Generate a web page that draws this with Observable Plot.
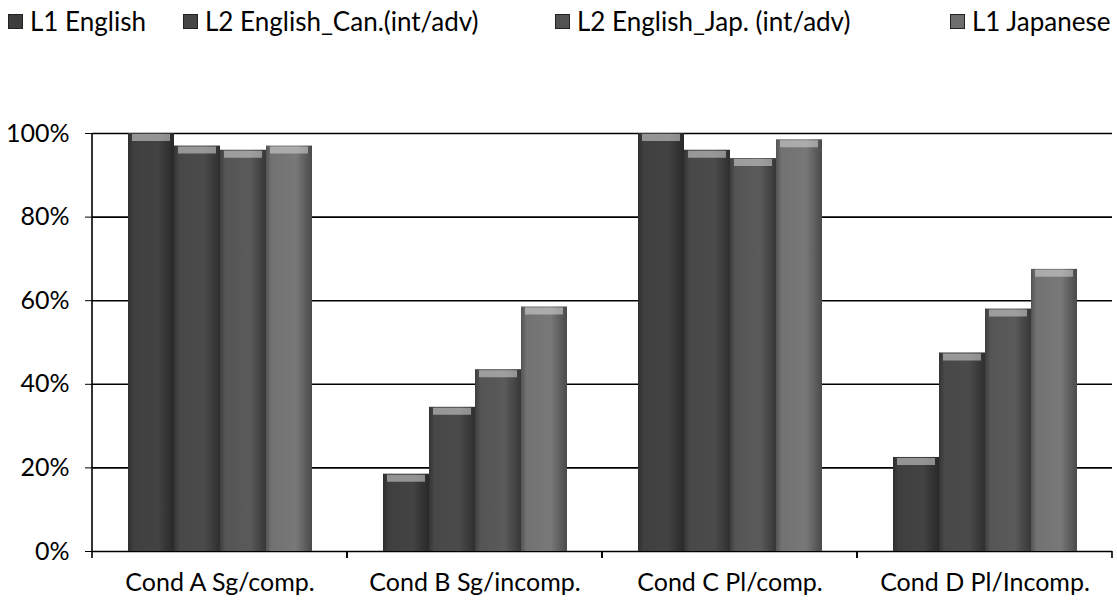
<!DOCTYPE html>
<html><head><meta charset="utf-8">
<script src="https://cdn.jsdelivr.net/npm/d3@7"></script>
<script src="https://cdn.jsdelivr.net/npm/@observablehq/plot@0.6"></script>
<style>
body{margin:0;background:#fff;font-family:Lato, "Open Sans", sans-serif;}
#wrap{position:relative;width:1117px;height:604px;overflow:hidden;}
#legend{position:relative;height:60px;}
.item{position:absolute;top:5px;display:flex;align-items:center;font-size:26px;color:#000;white-space:nowrap;}
.sw{width:13px;height:13px;margin-right:7px;border:1px solid #222;}
</style></head><body>
<div id="wrap"><div id="legend"></div><div id="chart"></div></div>
<script>
const categories = ["Cond A Sg/comp.", "Cond B Sg/incomp.", "Cond C Pl/comp.", "Cond D Pl/Incomp."];
const seriesNames = ["L1 English", "L2 English_Can.(int/adv)", "L2 English_Jap. (int/adv)", "L1 Japanese"];
const l1English = [100, 18.5, 100, 22.5];
const l2EnglishCan = [97, 34.5, 96, 47.5];
const l2EnglishJap = [96, 43.5, 94, 58];
const l1Japanese = [97, 58.5, 98.5, 67.5];
const yTicks = [0, 20, 40, 60, 80, 100];
const seriesColors = ["#3d3d3d", "#454545", "#525252", "#6e6e6e"];
const legendLefts = [8, 183, 555, 950];

const seriesValues = [l1English, l2EnglishCan, l2EnglishJap, l1Japanese];
const data = categories.flatMap((c, i) => seriesNames.map((s, j) => ({category: c, series: s, value: seriesValues[j][i]})));

// legend
const legend = document.getElementById("legend");
seriesNames.forEach((s, j) => {
  const it = document.createElement("div");
  it.className = "item";
  it.style.left = legendLefts[j] + "px";
  it.innerHTML = `<span class="sw" style="background:${seriesColors[j]}"></span><span>${s}</span>`;
  legend.appendChild(it);
});

const plot = Plot.plot({
  width: 1117,
  height: 544,
  marginTop: 73,
  marginBottom: 53,
  marginLeft: 92,
  marginRight: 5,
  style: {fontFamily: "Lato, 'Open Sans', sans-serif", fontSize: "25px", color: "#000", background: "#fff"},
  fx: {domain: categories, padding: 0, label: null, axis: "bottom", tickSize: 0, tickPadding: 22},
  x: {domain: seriesNames, paddingInner: 0, paddingOuter: 0.72, axis: null},
  y: {domain: [0, 100], ticks: yTicks, tickFormat: d => d + "%", tickSize: 7, tickPadding: 16, label: null},
  color: {domain: seriesNames, range: seriesColors},
  marks: [
    Plot.ruleY(yTicks, {stroke: "#000", strokeWidth: 1.6}),
    Plot.barY(data, {fx: "category", x: "series", y: "value", fill: "series"}),
    Plot.tickY(data, {fx: "category", x: "series", y: "value", stroke: "#d8d8d8", strokeOpacity: 0.55, strokeWidth: 7, dy: 4, insetLeft: 4, insetRight: 4})
  ]
});
document.getElementById("chart").appendChild(plot);

// shading gradients for 3D look
const svg = d3.select(plot);
const defs = svg.insert("defs", ":first-child");
seriesColors.forEach((c, j) => {
  const base = d3.color(c);
  const g = defs.append("linearGradient").attr("id", "g" + j).attr("x1", 0).attr("x2", 1).attr("y1", 0).attr("y2", 0);
  g.append("stop").attr("offset", "0%").attr("stop-color", base.darker(0.8));
  g.append("stop").attr("offset", "12%").attr("stop-color", base.brighter(0.1));
  g.append("stop").attr("offset", "65%").attr("stop-color", base.brighter(0.25));
  g.append("stop").attr("offset", "100%").attr("stop-color", base.darker(1.1));
});
svg.selectAll("rect").each(function() {
  const f = this.getAttribute("fill");
  const j = seriesColors.indexOf(f);
  if (j >= 0) d3.select(this).attr("fill", `url(#g${j})`);
});

// axis line and category boundary ticks via the plot's scales
const fx = plot.scale("fx"), y = plot.scale("y");
const y0 = y.apply(0), y100 = y.apply(100);
const left = fx.apply(categories[0]);
const g = svg.append("g").attr("stroke", "#000").attr("stroke-width", 1.6);
g.append("line").attr("x1", left).attr("x2", left).attr("y1", y100).attr("y2", y0 + 1);
categories.forEach(c => {
  const a = fx.apply(c);
  [a, a + fx.bandwidth].forEach(xv => {
    g.append("line").attr("x1", xv).attr("x2", xv).attr("y1", y0).attr("y2", y0 + 7);
  });
});
</script>
</body></html>
